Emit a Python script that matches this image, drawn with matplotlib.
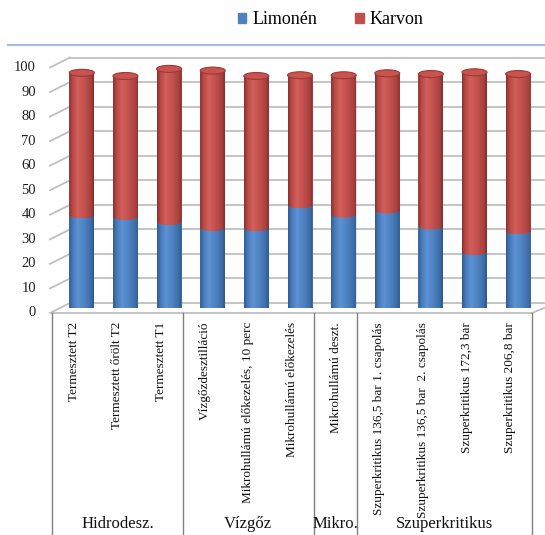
"""
Limonén / Karvon arány különböző kivonási módszereknél
halmozott (henger alakú) oszlopdiagram, csoportosított kategória-tengellyel
"""

import numpy as np
import matplotlib.pyplot as plt
from matplotlib.colors import LinearSegmentedColormap
from matplotlib.patches import Ellipse, Patch, PathPatch
from matplotlib.path import Path
from matplotlib.lines import Line2D

plt.rcParams['font.family'] = ['Liberation Serif', 'DejaVu Serif']

# adatok
categories = ['Termesztett T2', 'Termesztett őrölt T2', 'Termesztett T1',
              'Vízgőzdesztilláció', 'Mikrohullámú előkezelés, 10 perc',
              'Mikrohullámú előkezelés', 'Mikrohullámú deszt.',
              'Szuperkritikus 136,5 bar 1. csapolás',
              'Szuperkritikus 136,5 bar  2. csapolás',
              'Szuperkritikus 172,3 bar', 'Szuperkritikus 206,8 bar']
groups = ['Hidrodesz.', 'Vízgőz', 'Mikro.', 'Szuperkritikus']
group_sizes = [3, 3, 1, 4]
limonen = [37.9, 37.2, 35.2, 32.7, 32.7, 42.0, 38.2, 39.9, 33.4, 22.9, 31.4]
karvon = [57.9, 57.3, 62.2, 64.0, 61.8, 52.8, 56.6, 55.7, 61.9, 73.1, 63.9]
yticks = list(range(0, 101, 10))

W, H = 545, 535
fig = plt.figure(figsize=(W / 100, H / 100), dpi=100)

# tengely: oszlopok középmélységben
ax = fig.add_axes([60 / W, (H - 308) / H, 480 / W, 245.5 / H])
ax.set_axis_off()
n = len(categories)
px_x = 480 / n          # pixel / kategória
px_y = 245.5 / 100      # pixel / egység

# 3D eltolások (hátsó fal, elülső sík)
dxb, dyb = 10 / px_x, 5 / px_y
dxf, dyf = -8 / px_x, -5 / px_y

grid_c = '#BFBFBF'
# hátsó fal rácsvonalai + ferde jelölők + feliratok
for v in yticks:
    ax.plot([-0.5 + dxb, n + 1], [v + dyb, v + dyb], color=grid_c, lw=1.3,
            zorder=0, clip_on=False)
    ax.plot([-0.5 - 10 / px_x, -0.5 + dxb], [v + dyf, v + dyb], color=grid_c,
            lw=1.3, zorder=0, clip_on=False)
    ax.text(-0.5 - 24 / px_x, v + dyf, str(v), ha='right', va='center',
            fontsize=10.5, color='#222222')

# padló elülső és jobb oldali éle
ax.plot([-0.5 + dxf, n - 0.5 + dxf], [dyf, dyf], color=grid_c, lw=1.3,
        zorder=0, clip_on=False)
ax.plot([n - 0.5 + dxf, n - 0.5 + dxb + 0.3], [dyf, dyb + 1.2], color=grid_c,
        lw=1.3, zorder=0, clip_on=False)

# hengerek
blue_cmap = LinearSegmentedColormap.from_list(
    'b', [(0, '#2D5A90'), (0.12, '#4577B6'), (0.35, '#5D92D2'),
          (0.6, '#4F84C4'), (0.88, '#3E6DA8'), (1, '#2B578B')])
red_cmap = LinearSegmentedColormap.from_list(
    'r', [(0, '#8A2E2C'), (0.12, '#B54744'), (0.35, '#D35F5B'),
          (0.6, '#C4514E'), (0.88, '#A8413E'), (1, '#862C2A')])
bw = 25 / px_x
eh = 7 / px_y
x = np.arange(n)


def cylinder(rect, cmap, z):
    x0, y0 = rect.get_x(), rect.get_y()
    w, h = rect.get_width(), rect.get_height()
    t = np.linspace(np.pi, 2 * np.pi, 40)
    cx = x0 + w / 2
    bottom = np.column_stack([cx + w / 2 * np.cos(t), y0 + eh / 2 * np.sin(t)])
    verts = np.vstack([[x0, y0 + h], bottom, [x0 + w, y0 + h], [x0, y0 + h]])
    clip = PathPatch(Path(verts), transform=ax.transData, facecolor='none',
                     edgecolor='none')
    ax.add_patch(clip)
    grad = np.linspace(0, 1, 100).reshape(1, -1)
    im = ax.imshow(grad, cmap=cmap, extent=(x0, x0 + w, y0 - eh / 2, y0 + h),
                   aspect='auto', zorder=z, interpolation='bilinear')
    im.set_clip_path(clip)


bars_l = ax.bar(x, limonen, width=bw, color='#4F81BD', zorder=1)
bars_k = ax.bar(x, karvon, width=bw, bottom=limonen, color='#C0504D', zorder=1)
for r in bars_l:
    cylinder(r, blue_cmap, 2)
for r in bars_k:
    cylinder(r, red_cmap, 3)
for xi, l, k in zip(x, limonen, karvon):
    ax.add_patch(Ellipse((xi, l + k), bw, eh, facecolor='#C9534F',
                         edgecolor='#9A3936', lw=0.8, zorder=4))

# kategória-tengely táblázat
bounds = np.cumsum([0] + group_sizes)
y_bot = dyf - (H - 313 + 5) / px_y
for b in bounds:
    ax.plot([b - 0.5 + dxf] * 2, [dyf, y_bot], color='#808080', lw=1,
            zorder=0, clip_on=False)
for xi, lab in zip(x, categories):
    ax.text(xi + dxf, dyf - 9 / px_y, lab, rotation=90, ha='center', va='top',
            fontsize=9.5, color='#111111')
for g, s, e in zip(groups, bounds[:-1], bounds[1:]):
    ax.text((s + e) / 2 - 0.5 + dxf, (308 - 532) / px_y, g, ha='center',
            va='bottom', fontsize=12, color='#111111')

ax.set_xlim(-0.5, n - 0.5)
ax.set_ylim(0, 100)

# felső kék vonal
fig.add_artist(Line2D([8 / W, 1], [1 - 45 / H] * 2, transform=fig.transFigure,
                      color='#A3BDE3', lw=1.5))

# jelmagyarázat
fig.legend(handles=[Patch(color='#4F81BD', label='Limonén'),
                    Patch(color='#C0504D', label='Karvon')],
           loc='center', bbox_to_anchor=(331 / W, 1 - 20 / H), ncol=2,
           frameon=False, fontsize=13, handlelength=0.45, handleheight=0.45,
           handletextpad=0.35, columnspacing=2.1)

fig.savefig('out.png', dpi=100)
